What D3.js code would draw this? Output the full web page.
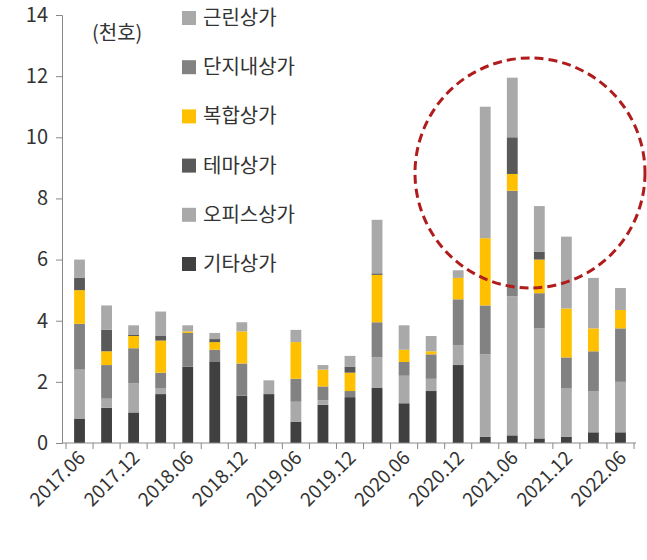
<!DOCTYPE html><html><head><meta charset="utf-8">
<script src="https://cdn.jsdelivr.net/npm/d3@7"></script>
<style>body{margin:0;background:#fff}text{font-family:"Noto Sans CJK KR","Noto Sans",sans-serif;fill:#333}</style></head><body>
<svg id="c" width="647" height="560"></svg>
<script>
const periods=["2017.06","2017.09","2017.12","2018.03","2018.06","2018.09","2018.12","2019.03","2019.06","2019.09","2019.12","2020.03","2020.06","2020.09","2020.12","2021.03","2021.06","2021.09","2021.12","2022.03","2022.06"];
const series=["기타상가","오피스상가","단지내상가","복합상가","테마상가","근린상가"];
const 기타=[0.8,1.15,1.0,1.6,2.5,2.65,1.55,1.6,0.7,1.25,1.5,1.8,1.3,1.7,2.55,0.2,0.25,0.15,0.2,0.35,0.35];
const 오피스=[1.6,0.3,0.95,0.2,0,0,0,0,0.65,0.15,0,1.0,0.9,0.4,0.65,2.7,4.55,3.6,1.6,1.35,1.65];
const 단지내=[1.5,1.1,1.15,0.5,1.1,0.4,1.05,0,0.75,0.45,0.2,1.15,0.45,0.8,1.5,1.6,3.45,1.15,1.0,1.3,1.75];
const 복합=[1.1,0.45,0.4,1.05,0.05,0.25,1.05,0,1.2,0.55,0.6,1.55,0.4,0.1,0.7,2.2,0.55,1.1,1.6,0.75,0.6];
const 테마=[0.4,0.7,0.05,0.15,0,0.1,0,0,0,0,0.2,0.05,0,0,0,0,1.2,0.25,0,0,0];
const 근린=[0.6,0.8,0.3,0.8,0.2,0.2,0.3,0.45,0.4,0.15,0.35,1.75,0.8,0.5,0.25,4.3,1.95,1.5,2.35,1.65,0.72];
const yTicks=[0,2,4,6,8,10,12,14];
const legendOrder=["근린상가","단지내상가","복합상가","테마상가","오피스상가","기타상가"];
const colors={"기타상가":"#404040","오피스상가":"#a9a9a9","단지내상가":"#828282","복합상가":"#ffc000","테마상가":"#595959","근린상가":"#a9a9a9"};
const vals={"기타상가":기타,"오피스상가":오피스,"단지내상가":단지내,"복합상가":복합,"테마상가":테마,"근린상가":근린};
const rows=periods.map((p,i)=>{const r={p};series.forEach(s=>r[s]=vals[s][i]);return r;});
const svg=d3.select("#c");
const x=d3.scaleBand().domain(periods).range([66,634]).paddingInner(0.6).paddingOuter(0.3);
const y=d3.scaleLinear().domain([0,14]).range([443,15]);
const stack=d3.stack().keys(series)(rows);
svg.append("g").selectAll("g").data(stack).join("g").attr("fill",d=>colors[d.key])
 .selectAll("rect").data(d=>d).join("rect")
 .attr("x",d=>x(d.data.p)).attr("width",x.bandwidth())
 .attr("y",d=>y(d[1])).attr("height",d=>y(d[0])-y(d[1]));
const ya=svg.append("g").attr("transform","translate(62,0)").call(d3.axisLeft(y).tickValues(yTicks).tickSize(6).tickPadding(8));
ya.selectAll("text").style("font-size","20px").attr("fill","#333");
ya.select(".domain").attr("stroke","#888");ya.selectAll(".tick line").attr("stroke","#888");
const xa=svg.append("g").attr("transform","translate(0,443)");
xa.append("line").attr("x1",62).attr("x2",636).attr("stroke","#888");
const step=x.step();
periods.forEach((p,i)=>{const cx=x(p)+x.bandwidth()/2;xa.append("line").attr("x1",cx-step/2).attr("x2",cx-step/2).attr("y1",0).attr("y2",6).attr("stroke","#888");});
xa.append("line").attr("x1",x(periods[20])+x.bandwidth()/2+step/2).attr("x2",x(periods[20])+x.bandwidth()/2+step/2).attr("y1",0).attr("y2",6).attr("stroke","#888");
periods.forEach((p,i)=>{if(i%2)return;const cx=x(p)+x.bandwidth()/2;
 xa.append("text").attr("transform",`translate(${cx+7},16) rotate(-45)`).attr("text-anchor","end").style("font-size","19px").text(p);});
svg.append("text").attr("x",92).attr("y",40).style("font-size","20px").text("(천호)");
legendOrder.forEach((s,i)=>{const ly=18+i*49.2;
 svg.append("rect").attr("x",182).attr("y",ly-7).attr("width",14).attr("height",14).attr("fill",colors[s]);
 svg.append("text").attr("x",203).attr("y",ly+7).style("font-size","20px").text(s);});
svg.append("circle").attr("cx",530).attr("cy",173).attr("r",115).attr("fill","none").attr("stroke","#b01c1c").attr("stroke-width",3).attr("stroke-dasharray","9,5");
</script></body></html>
